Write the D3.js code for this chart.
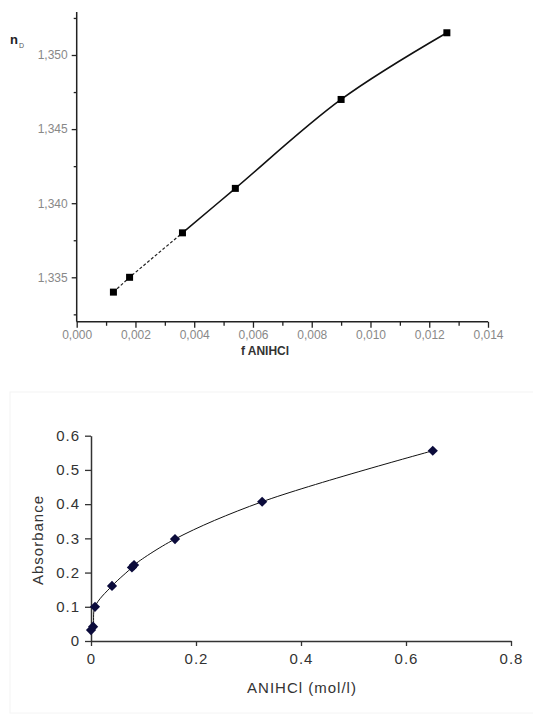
<html>
  <head>
    <script src="https://d3js.org/d3.v7.min.js"></script>
    <style>
      body { margin: 0; background: #fff; }
      text { font-family: "Liberation Sans", Arial, sans-serif; }
    </style>
  </head>
  <body>
    <svg id="chart" width="533" height="715"></svg>
    <script>
      // top chart data: refractive index vs fraction ANIHCl
      const fValues = [0.00125, 0.0018, 0.0036, 0.0054, 0.009, 0.0126];
      const nValues = [1.334, 1.335, 1.338, 1.341, 1.347, 1.3515];
      const fMajor = [0, 0.002, 0.004, 0.006, 0.008, 0.01, 0.012, 0.014];
      const fMinor = [0.001, 0.003, 0.005, 0.007, 0.009, 0.011, 0.013];
      const nMajor = [1.335, 1.34, 1.345, 1.35];
      const nMinor = [1.3325, 1.3375, 1.3425, 1.3475, 1.3525];

      // bottom chart data: absorbance vs concentration
      const concValues = [0, 0.004, 0.0076, 0.04, 0.078, 0.082, 0.16, 0.326, 0.651];
      const absValues = [0.032, 0.042, 0.1, 0.161, 0.215, 0.222, 0.298, 0.407, 0.556];
      const concTicks = [0, 0.2, 0.4, 0.6, 0.8];
      const absTicks = [0, 0.1, 0.2, 0.3, 0.4, 0.5, 0.6];

      const svg = d3.select("#chart");

      const comma = d3.formatLocale({ decimal: ",", thousands: ".", grouping: [3], currency: ["", ""] });
      const fmt3 = comma.format(".3f");

      // ---------- top chart ----------
      const x1 = d3.scaleLinear().domain([0, 0.014]).range([76.7, 488]);
      const y1 = d3.scaleLinear().domain([1.335, 1.35]).range([277.3, 55]);
      const topG = svg.append("g");

      topG.append("line")
        .attr("x1", x1(0)).attr("x2", x1(0))
        .attr("y1", y1(1.332)).attr("y2", y1(1.3529))
        .attr("stroke", "#222").attr("stroke-width", 1.5);
      topG.append("line")
        .attr("x1", x1(0)).attr("x2", x1(0.014))
        .attr("y1", y1(1.332)).attr("y2", y1(1.332))
        .attr("stroke", "#222").attr("stroke-width", 1.5);

      const yAx1 = topG.append("g").attr("transform", `translate(${x1(0)},0)`)
        .call(d3.axisLeft(y1).tickValues(nMajor).tickSize(5).tickPadding(4).tickFormat(fmt3));
      const yMin1 = topG.append("g").attr("transform", `translate(${x1(0)},0)`)
        .call(d3.axisLeft(y1).tickValues(nMinor).tickSize(3).tickFormat(""));
      const xAx1 = topG.append("g").attr("transform", `translate(0,${y1(1.332)})`)
        .call(d3.axisBottom(x1).tickValues(fMajor).tickSize(6).tickPadding(3).tickFormat(fmt3));
      const xMin1 = topG.append("g").attr("transform", `translate(0,${y1(1.332)})`)
        .call(d3.axisBottom(x1).tickValues(fMinor).tickSize(4).tickFormat(""));
      [yAx1, yMin1, xAx1, xMin1].forEach((g) => {
        g.select(".domain").remove();
        g.selectAll(".tick line").attr("stroke", "#222").attr("stroke-width", 1.3);
        g.selectAll("text").attr("fill", "#888").attr("font-size", 12)
          .attr("font-family", "Liberation Sans, Arial, sans-serif");
      });

      const pts1 = fValues.map((f, i) => [f, nValues[i]]);
      const line1 = d3.line().x((d) => x1(d[0])).y((d) => y1(d[1]));
      // first segments dashed, rest a smooth solid curve
      topG.append("path")
        .attr("d", line1(pts1.slice(0, 3)))
        .attr("fill", "none").attr("stroke", "#222").attr("stroke-width", 1.2)
        .attr("stroke-dasharray", "3,2");
      topG.append("path")
        .attr("d", line1.curve(d3.curveCatmullRom.alpha(0.5))(pts1.slice(2)))
        .attr("fill", "none").attr("stroke", "#111").attr("stroke-width", 1.6);
      topG.selectAll("rect.pt").data(pts1).join("rect")
        .attr("class", "pt")
        .attr("x", (d) => x1(d[0]) - 3.5).attr("y", (d) => y1(d[1]) - 3.5)
        .attr("width", 7).attr("height", 7).attr("fill", "#000");

      topG.append("text").attr("x", 10).attr("y", 44)
        .attr("font-size", 13).attr("fill", "#222").attr("font-weight", "bold").text("n");
      topG.append("text").attr("x", 19).attr("y", 48)
        .attr("font-size", 7).attr("fill", "#555").text("D");
      topG.append("text").attr("x", 265).attr("y", 355).attr("text-anchor", "middle")
        .attr("font-size", 12).attr("font-weight", "bold").attr("fill", "#333").text("f ANIHCl");

      // ---------- bottom chart ----------
      const x2 = d3.scaleLinear().domain([0, 0.8]).range([91, 511]);
      const y2 = d3.scaleLinear().domain([0, 0.6]).range([641, 435.7]);
      const botG = svg.append("g");

      botG.append("rect").attr("x", 10).attr("y", 392).attr("width", 530).attr("height", 321)
        .attr("fill", "none").attr("stroke", "#f4f4f4");

      const xAx2 = botG.append("g").attr("transform", `translate(0,${y2(0)})`)
        .call(d3.axisBottom(x2).tickValues(concTicks).tickSize(5).tickSizeOuter(0).tickPadding(7)
          .tickFormat((d) => (d === 0 ? "0" : d3.format(".1f")(d))));
      const yAx2 = botG.append("g").attr("transform", `translate(${x2(0)},0)`)
        .call(d3.axisLeft(y2).tickValues(absTicks).tickSize(6).tickSizeOuter(0).tickPadding(5)
          .tickFormat((d) => (d === 0 ? "0" : d3.format(".1f")(d))));
      [xAx2, yAx2].forEach((g) => {
        g.select(".domain").attr("stroke", "#333").attr("stroke-width", 1.5);
        g.selectAll(".tick line").attr("stroke", "#333").attr("stroke-width", 1.3);
        g.selectAll("text").attr("fill", "#333").attr("font-size", 15)
          .attr("letter-spacing", 1).attr("font-family", "Liberation Sans, Arial, sans-serif");
      });

      const pts2 = concValues.map((c, i) => [c, absValues[i]]);
      botG.append("path")
        .attr("d", d3.line().x((d) => x2(d[0])).y((d) => y2(d[1])).curve(d3.curveCatmullRom.alpha(0.5))(pts2))
        .attr("fill", "none").attr("stroke", "#111").attr("stroke-width", 1);
      botG.selectAll("path.pt").data(pts2).join("path")
        .attr("class", "pt")
        .attr("d", d3.symbol(d3.symbolSquare, 52)())
        .attr("transform", (d) => `translate(${x2(d[0])},${y2(d[1])}) rotate(45)`)
        .attr("fill", "#0b0b3b");

      botG.append("text")
        .attr("transform", "translate(43,540) rotate(-90)").attr("text-anchor", "middle")
        .attr("font-size", 15).attr("letter-spacing", 1).attr("fill", "#333").text("Absorbance");
      botG.append("text").attr("x", 302).attr("y", 693).attr("text-anchor", "middle")
        .attr("font-size", 15).attr("letter-spacing", 1).attr("fill", "#333").text("ANIHCl (mol/l)");
    </script>
  </body>
</html>
